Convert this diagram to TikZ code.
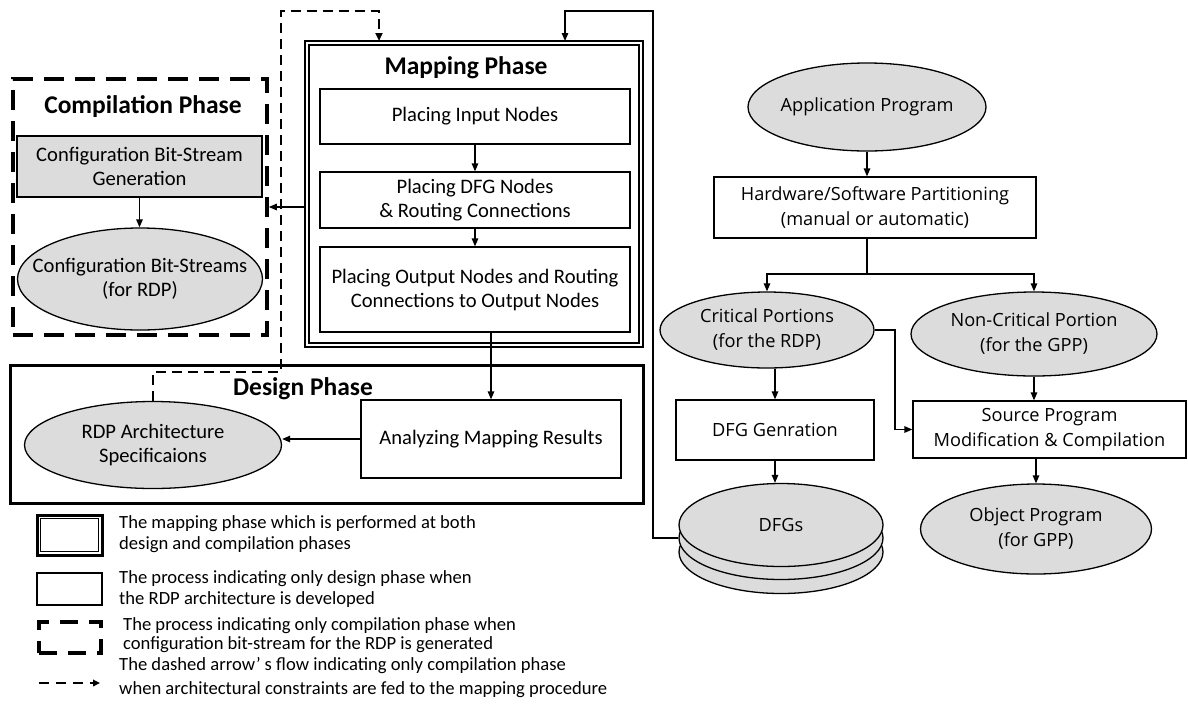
\documentclass[tikz,border=0pt]{standalone}
\usepackage{fontspec}
\setmainfont{Carlito}
\newfontfamily\osans{Open Sans}
\usetikzlibrary{arrows.meta,shapes.geometric,calc}
\definecolor{fillg}{RGB}{220,220,220}
\begin{document}
\begin{tikzpicture}[x=1pt,y=-1pt,
  tip/.style={-{Triangle[length=8pt,width=6.5pt]}},
  conn/.style={line width=1.3pt, tip},
  plain/.style={line width=1.3pt},
  darr/.style={line width=2.4pt, dash pattern=on 10pt off 6pt, -{Triangle[length=8pt,width=7pt]}},
  lfont/.style={font=\fontsize{20.6}{24}\selectfont},
  rfont/.style={font=\osans\fontsize{18.2}{25}\selectfont},
  ttl/.style={font=\bfseries\fontsize{25.5}{28}\selectfont, inner sep=0pt},
  lbox/.style={draw, line width=1.3pt, inner sep=0pt, align=center, lfont},
  rbox/.style={draw, line width=1.3pt, inner sep=0pt, align=center, rfont},
  gell/.style={ellipse, draw, fill=fillg, line width=1.3pt, inner sep=0pt},
  compbox/.style={draw, line width=4pt, dash pattern=on 20pt off 11pt, inner sep=0pt},
  mapouter/.style={draw, line width=2.8pt, inner sep=0pt},
  desbox/.style={draw, line width=3pt, inner sep=0pt},
  legtext/.style={anchor=west, align=left, font=\fontsize{18.6}{21}\selectfont, inner sep=0pt},
]
\fill[white] (0,0) rectangle (1188,705);
\useasboundingbox (0,0) rectangle (1188,705);

% ---------- Compilation phase ----------
\node[compbox, minimum width=254pt, minimum height=256pt] (comp) at (139.8,207) {};
\node[ttl] (ctitle) at (143,107) {Compilation Phase};
\node[lbox, fill=fillg, minimum width=245pt, minimum height=61pt] (gen) at (139.5,166.5)
  {Configuration Bit-Stream\\Generation};
\node[gell, minimum width=245pt, minimum height=102pt,
  label={[lfont,align=center]center:Configuration Bit-Streams\\(for RDP)}] (cbs) at (140,279) {};
\draw[conn] (gen.south) -- (gen.south |- cbs.north);

% ---------- Mapping phase ----------
\node[mapouter, minimum width=338pt, minimum height=306pt] (map) at (474,194) {};
\draw[line width=1.6pt] ($(map.north west)+(5.5,5.5)$) rectangle ($(map.south east)+(-5.5,-5.5)$);
\node[ttl] (mtitle) at (466,68) {Mapping Phase};
\node[lbox, minimum width=310pt, minimum height=55pt] (inp) at (475,116.5) {Placing Input Nodes};
\node[lbox, minimum width=310pt, minimum height=56pt] (dfgn) at (475,200) {Placing DFG Nodes\\\& Routing Connections};
\node[lbox, minimum width=310pt, minimum height=85pt] (outn) at (475,289.5)
  {Placing Output Nodes and Routing\\Connections to Output Nodes};
\draw[conn] (inp.south) -- (dfgn.north);
\draw[conn] (dfgn.south) -- (outn.north);
\draw[conn] (map.west |- comp.east) -- (comp.east);

% ---------- Design phase ----------
\node[desbox, minimum width=633pt, minimum height=138pt] (design) at (326.5,434) {};
\node[ttl] (dtitle) at (303,389) {Design Phase};
\node[lbox, minimum width=260pt, minimum height=78pt] (ana) at (491,439) {Analyzing Mapping Results};
\node[gell, minimum width=257pt, minimum height=87pt,
  label={[lfont,align=center]center:RDP Architecture\\Specificaions}] (rdp) at (153,445) {};
\draw[conn] (ana.north |- outn.south) -- (ana.north);
\draw[conn] (ana.west) -- (rdp.east |- ana.west);

% dashed feedback
\coordinate (dv) at (281,372);
\coordinate (dt) at (281,11);
\coordinate (min) at (379,41);
\draw[darr] (rdp.north) |- (dv) -- (dt) -| (min);

% ---------- Right side ----------
\node[gell, minimum width=238pt, minimum height=88pt,
  label={[rfont]center:Application Program}] (app) at (867,107) {};
\node[rbox, minimum width=322pt, minimum height=61pt] (hw) at (875,207.5)
  {Hardware/Software Partitioning\\(manual or automatic)};
\draw[conn] (app.south) -- (app.south |- hw.north);
\node[gell, minimum width=214pt, minimum height=76pt,
  label={[rfont,align=center]center:Critical Portions\\(for the RDP)}] (crit) at (767,330) {};
\node[gell, minimum width=246pt, minimum height=84pt,
  label={[rfont,align=center]center:Non-Critical Portion\\(for the GPP)}] (ncrit) at (1034,334) {};
\coordinate (br) at (867,274);
\draw[plain] (app.south |- hw.south) -- (br);
\draw[conn] (br) -| (crit.north);
\draw[conn] (br) -| (ncrit.north);

\node[rbox, minimum width=198pt, minimum height=60pt] (dfgg) at (775,430) {DFG Genration};
\node[rbox, minimum width=273pt, minimum height=57pt] (src) at (1049.5,429.5)
  {Source Program\\Modification \& Compilation};
\coordinate (cx) at (895,330);
\draw[conn] (crit.east) -- (cx) |- (src.west);
\draw[conn] (dfgg.north |- crit.south) -- (dfgg.north);
\draw[conn] (ncrit.south) -- (ncrit.south |- src.north);

\node[gell, minimum width=204pt, minimum height=83pt] (dfgs3) at (781,552) {};
\node[gell, minimum width=204pt, minimum height=83pt] (dfgs2) at (781,538) {};
\node[gell, minimum width=204pt, minimum height=83pt,
  label={[rfont]center:DFGs}] (dfgs1) at (781,525) {};
\draw[conn] (dfgg.south) -- (dfgg.south |- dfgs1.north);

\node[gell, minimum width=231pt, minimum height=90pt,
  label={[rfont,align=center]center:Object Program\\(for GPP)}] (obj) at (1036,529) {};
\draw[conn] (src.south -| obj.north) -- (obj.north);

% feedback from DFGs to mapping
\coordinate (sr) at (653,11);
\coordinate (sin) at (565,41);
\draw[conn] (dfgs2.west) -| (sr) -| (sin);

% ---------- Legend ----------
\node[draw, line width=3pt, inner sep=0pt, minimum width=65pt, minimum height=40pt] (lg1) at (69.5,535) {};
\draw[line width=1.6pt] ($(lg1.north west)+(5,5)$) rectangle ($(lg1.south east)+(-5,-5)$);
\node[legtext] (lt1) at (119,534.5) {The mapping phase which is performed at both\\design and compilation phases};

\node[draw, line width=2.6pt, inner sep=0pt, minimum width=65pt, minimum height=32pt] (lg2) at (69.5,589) {};
\node[legtext] (lt2) at (119,589.5) {The process indicating only design phase when\\the RDP architecture is developed};

\node[draw, line width=4pt, dash pattern=on 18pt off 11pt, inner sep=0pt, minimum width=62pt, minimum height=31pt] (lg3) at (70,637.5) {};
\node[legtext, font=\fontsize{18.6}{19}\selectfont] (lt3) at (123,635.5) {The process indicating only compilation phase when\\configuration bit-stream for the RDP is generated};

\coordinate (la1) at (39,683);
\coordinate (la2) at (100,683);
\draw[line width=2.3pt, dash pattern=on 10pt off 7pt, -{Triangle[length=7pt,width=6.5pt]}] (la1) -- (la2);
\node[legtext, font=\fontsize{18.6}{24}\selectfont] (lt4) at (119,677.5)
  {The dashed arrow\kern1pt’\kern4pt s flow indicating only compilation phase\\when architectural constraints are fed to the mapping procedure};
\end{tikzpicture}
\end{document}
